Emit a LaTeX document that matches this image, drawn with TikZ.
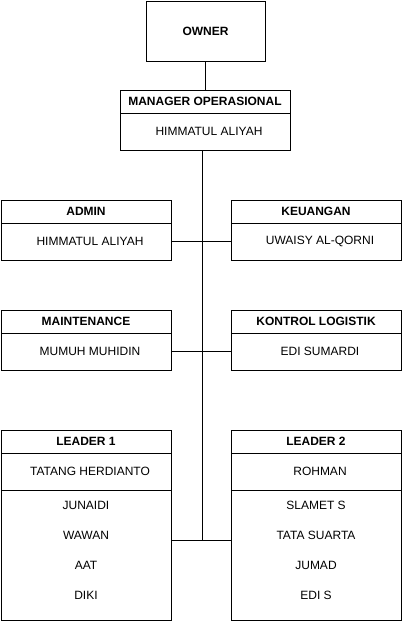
\documentclass[tikz,border=0pt]{standalone}
\usepackage{fontspec}
\setmainfont{Liberation Sans}

\tikzset{
  cell/.style={draw, line width=1pt, minimum width=170pt, inner sep=0pt,
    font=\fontsize{12}{14}\selectfont},
  hdrbox/.style={cell, minimum height=23pt, font=\fontsize{12}{14}\selectfont\bfseries},
  namebox/.style={cell, minimum height=37pt, execute at begin node={\hspace*{8pt}}},
  listbox/.style={cell, minimum height=130pt},
  item/.style={inner sep=0pt, font=\fontsize{12}{14}\selectfont},
  link/.style={line width=1pt}
}

\begin{document}
\begin{tikzpicture}[x=1pt, y=1pt]
\useasboundingbox (0, 0) rectangle (402, -621);

\node[cell, minimum width=119pt, minimum height=60pt, font=\fontsize{12}{14}\selectfont\bfseries]
  (owner) at (205.5, -31) {OWNER};

\node[hdrbox] (mgrhdr) at (205, -101.5) {MANAGER OPERASIONAL};
\node[namebox] (mgrname) at (205, -131.5) {HIMMATUL ALIYAH};

\node[hdrbox] (adminhdr) at (86, -211.5) {ADMIN};
\node[namebox] (adminname) at (86, -241.5) {HIMMATUL ALIYAH};
\node[hdrbox] (keuhdr) at (316, -211.5) {KEUANGAN};
\node[namebox] (keuname) at (316, -241.5) {UWAISY AL-QORNI};

\node[hdrbox] (mainthdr) at (86, -321.5) {MAINTENANCE};
\node[namebox] (maintname) at (86, -351.5) {MUMUH MUHIDIN};
\node[hdrbox] (logihdr) at (316, -321.5) {KONTROL LOGISTIK};
\node[namebox] (loginame) at (316, -351.5) {EDI SUMARDI};

\node[hdrbox] (lead1hdr) at (86, -441.5) {LEADER 1};
\node[namebox] (lead1name) at (86, -471.5) {TATANG HERDIANTO};
\node[listbox] (lead1list) at (86, -555) {};
\foreach \nm [count=\i] in {JUNAIDI, WAWAN, AAT, DIKI}
  \node[item] (lead1item\i) at (86, -475 - 30 * \i) {\nm};

\node[hdrbox] (lead2hdr) at (316, -441.5) {LEADER 2};
\node[namebox] (lead2name) at (316, -471.5) {ROHMAN};
\node[listbox] (lead2list) at (316, -555) {};
\foreach \nm [count=\i] in {SLAMET S, TATA SUARTA, JUMAD, EDI S}
  \node[item] (lead2item\i) at (316, -475 - 30 * \i) {\nm};

% connectors
\coordinate (trunkend) at (202, -540);
\draw[link] (owner.south) -- (owner.south |- mgrhdr.north);
\draw[link] (mgrname.south -| trunkend) -- (trunkend);
\draw[link] (adminname.east) -- (keuname.west);
\draw[link] (maintname.east) -- (loginame.west);
\draw[link] (lead1list.east |- trunkend) -- (lead2list.west |- trunkend);
\end{tikzpicture}
\end{document}
